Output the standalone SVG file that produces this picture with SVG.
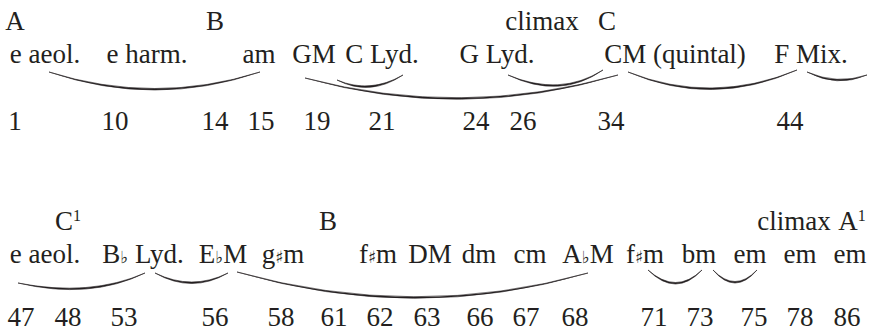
<svg xmlns="http://www.w3.org/2000/svg" width="870" height="332" viewBox="0 0 870 332">
<style>
text{font-family:"Liberation Serif","DejaVu Serif",serif;font-size:27px;fill:#231f20;text-anchor:middle}
.acc{font-family:"DejaVu Serif","Liberation Serif",serif;font-size:17px}
.sup{font-size:16px}
#connectors path{fill:#231f20;stroke:#231f20;stroke-width:0.6;stroke-linejoin:round}
</style>
<rect width="870" height="332" fill="#ffffff"/>
<g id="sections">
<g id="sec-A"><text x="15" y="30">A</text></g>
<g id="sec-B1"><text x="215" y="30">B</text></g>
<g id="sec-climax1"><text x="542" y="30">climax</text></g>
<g id="sec-C"><text x="607" y="30">C</text></g>
<g id="sec-C1"><text x="68" y="230">C<tspan class="sup" dy="-9">1</tspan></text></g>
<g id="sec-B2"><text x="328" y="230">B</text></g>
<g id="sec-climax2"><text x="794" y="230">climax</text></g>
<g id="sec-A1"><text x="852" y="230">A<tspan class="sup" dy="-9">1</tspan></text></g>
</g>
<g id="chords">
<g id="c1"><text x="45" y="63">e aeol.</text></g>
<g id="c10"><text x="147" y="63">e harm.</text></g>
<g id="c15"><text x="259" y="63">am</text></g>
<g id="c19"><text x="314" y="63">GM</text></g>
<g id="c21"><text x="382" y="63">C Lyd.</text></g>
<g id="c24"><text x="497" y="63">G Lyd.</text></g>
<g id="c34"><text x="675" y="63">CM (quintal)</text></g>
<g id="c44"><text x="811" y="63">F Mix.</text></g>
<g id="c47"><text x="45" y="263">e aeol.</text></g>
<g id="c53"><text x="143" y="263">B<tspan class="acc">♭</tspan> Lyd.</text></g>
<g id="c56"><text x="223" y="263">E<tspan class="acc">♭</tspan>M</text></g>
<g id="c58"><text x="283" y="263">g<tspan class="acc">♯</tspan>m</text></g>
<g id="c62"><text x="378" y="263">f<tspan class="acc">♯</tspan>m</text></g>
<g id="c63"><text x="430" y="263">DM</text></g>
<g id="c66"><text x="479" y="263">dm</text></g>
<g id="c67"><text x="530" y="263">cm</text></g>
<g id="c68"><text x="588" y="263">A<tspan class="acc">♭</tspan>M</text></g>
<g id="c71"><text x="645" y="263">f<tspan class="acc">♯</tspan>m</text></g>
<g id="c73"><text x="699" y="263">bm</text></g>
<g id="c75"><text x="750" y="263">em</text></g>
<g id="c78"><text x="800" y="263">em</text></g>
<g id="c86"><text x="850" y="263">em</text></g>
</g>
<g id="measures">
<g id="m1"><text x="15" y="130">1</text></g>
<g id="m10"><text x="115" y="130">10</text></g>
<g id="m14"><text x="215" y="130">14</text></g>
<g id="m15"><text x="261" y="130">15</text></g>
<g id="m19"><text x="317" y="130">19</text></g>
<g id="m21"><text x="382" y="130">21</text></g>
<g id="m24"><text x="476" y="130">24</text></g>
<g id="m26"><text x="523" y="130">26</text></g>
<g id="m34"><text x="611" y="130">34</text></g>
<g id="m44"><text x="790" y="130">44</text></g>
<g id="m47"><text x="21" y="326">47</text></g>
<g id="m48"><text x="68" y="326">48</text></g>
<g id="m53"><text x="124" y="326">53</text></g>
<g id="m56"><text x="215" y="326">56</text></g>
<g id="m58"><text x="281" y="326">58</text></g>
<g id="m61"><text x="334" y="326">61</text></g>
<g id="m62"><text x="380" y="326">62</text></g>
<g id="m63"><text x="427" y="326">63</text></g>
<g id="m66"><text x="480" y="326">66</text></g>
<g id="m67"><text x="526" y="326">67</text></g>
<g id="m68"><text x="575" y="326">68</text></g>
<g id="m71"><text x="654" y="326">71</text></g>
<g id="m73"><text x="700" y="326">73</text></g>
<g id="m75"><text x="754" y="326">75</text></g>
<g id="m78"><text x="800" y="326">78</text></g>
<g id="m86"><text x="847" y="326">86</text></g>
</g>
<g id="connectors">
<path d="M49 72 Q155 108 260 72 Q155 105 49 72Z"/>
<path d="M305 78 Q462 122 618 75 Q462 119 305 78Z"/>
<path d="M337 80 Q370 97 403 75 Q370 94 337 80Z"/>
<path d="M508 75 Q560 100 603 70 Q560 97 508 75Z"/>
<path d="M628 72 Q712 108 797 70 Q712 105 628 72Z"/>
<path d="M807 72 Q837 88 867 75 Q837 85 807 72Z"/>
<path d="M18 283 Q90 300 145 273 Q90 297 18 283Z"/>
<path d="M155 273 Q192 294 228 273 Q192 291 155 273Z"/>
<path d="M237 272 Q415 324 588 273 Q415 321 237 272Z"/>
<path d="M648 270 Q676 298 702 270 Q676 295 648 270Z"/>
<path d="M713 270 Q735 296 757 270 Q735 293 713 270Z"/>
</g>
</svg>
